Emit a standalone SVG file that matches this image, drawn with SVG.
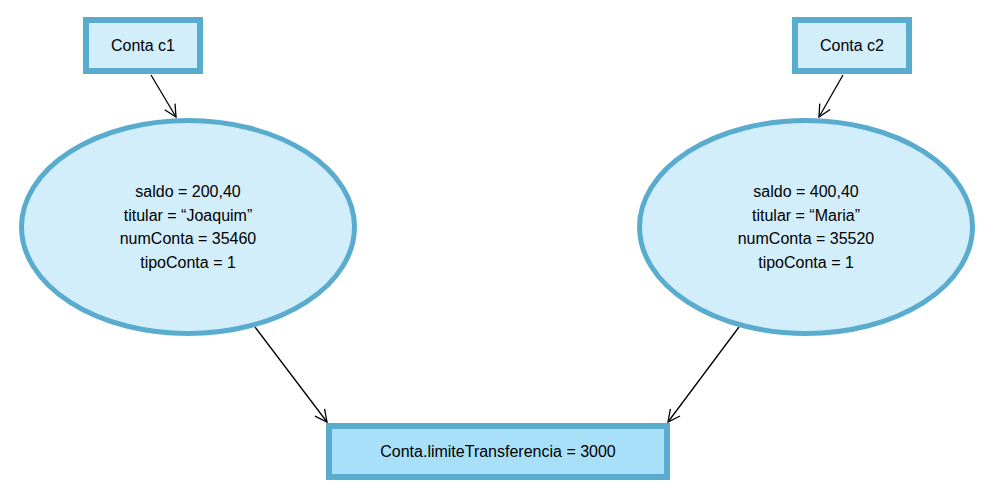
<svg xmlns="http://www.w3.org/2000/svg" width="1006" height="492" viewBox="0 0 1006 492">
<style>
.box{fill:#d3eefb;stroke:#5aaccf;stroke-width:6}
.res{fill:#a9e0f9;stroke:#5aaccf;stroke-width:6}
.obj{fill:#d3eefb;stroke:#5aaccf;stroke-width:5}
text{font-family:"Liberation Sans",Arial,sans-serif;font-size:16px;fill:#000;text-anchor:middle}
.edge{stroke:#000;stroke-width:1.3;fill:none;marker-end:url(#arr)}
</style>
<defs>
<marker id="arr" viewBox="0 0 14 14" refX="13" refY="7" markerWidth="14" markerHeight="14" markerUnits="userSpaceOnUse" orient="auto">
<path d="M1,1 L13,7 L1,13" fill="none" stroke="#000" stroke-width="1.3"/>
</marker>
</defs>
<g id="connectors">
<line class="edge" x1="151" y1="75" x2="176" y2="117"/>
<line class="edge" x1="843" y1="75" x2="819" y2="117"/>
<line class="edge" x1="255" y1="327" x2="327" y2="422"/>
<line class="edge" x1="739" y1="327" x2="668" y2="422"/>
</g>
<g id="c1">
<rect class="box" x="86" y="20" width="114" height="51"/>
<text x="143" y="51">Conta c1</text>
</g>
<g id="c2">
<rect class="box" x="795" y="20" width="114" height="51"/>
<text x="852" y="51">Conta c2</text>
</g>
<g id="obj1">
<ellipse class="obj" cx="188" cy="227" rx="166.5" ry="106.5"/>
<text x="188" y="197">saldo = 200,40</text>
<text x="188" y="221">titular = “Joaquim”</text>
<text x="188" y="244">numConta = 35460</text>
<text x="188" y="268">tipoConta = 1</text>
</g>
<g id="obj2">
<ellipse class="obj" cx="806" cy="227" rx="166.5" ry="106.5"/>
<text x="806" y="197">saldo = 400,40</text>
<text x="806" y="221">titular = “Maria”</text>
<text x="806" y="244">numConta = 35520</text>
<text x="806" y="268">tipoConta = 1</text>
</g>
<g id="limite">
<rect class="res" x="329" y="426" width="338" height="51"/>
<text x="498" y="457">Conta.limiteTransferencia = 3000</text>
</g>
</svg>
